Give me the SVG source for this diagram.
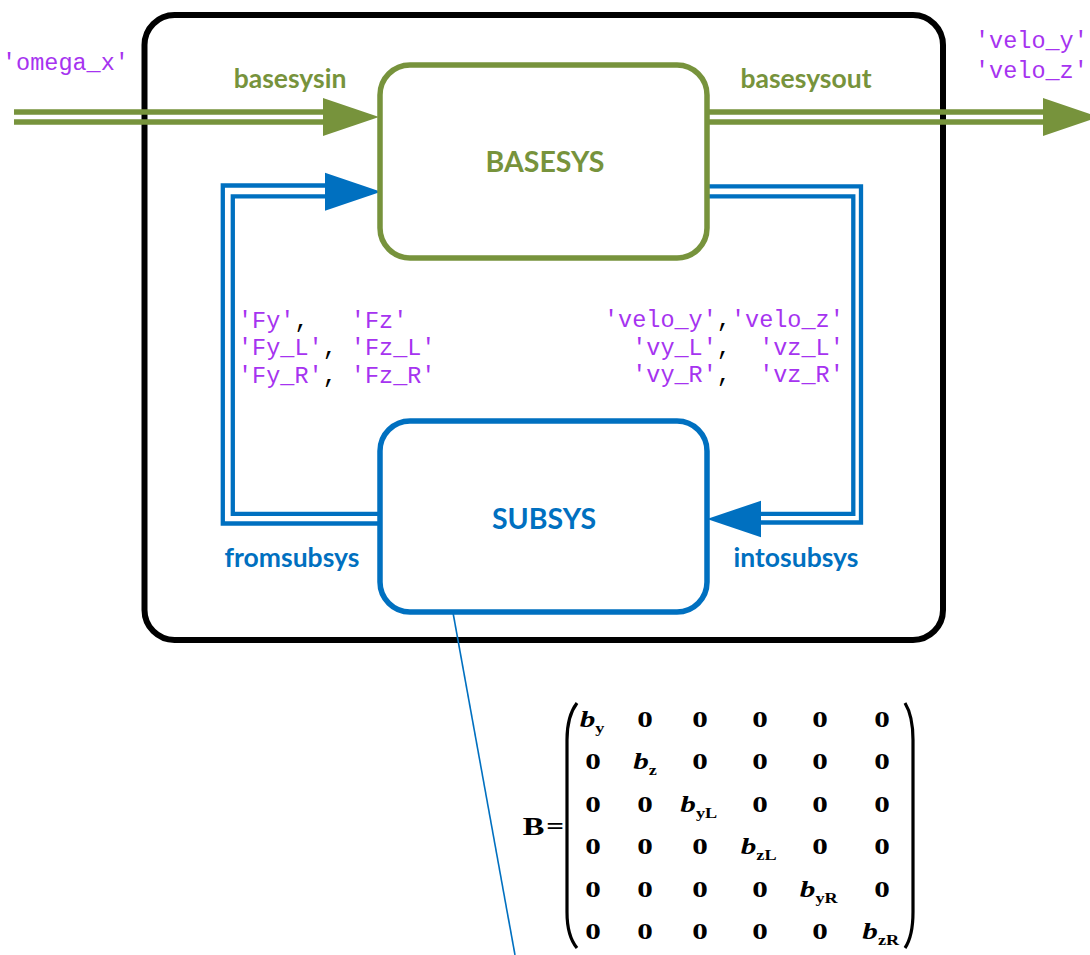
<svg xmlns="http://www.w3.org/2000/svg" width="1090" height="955" viewBox="0 0 1090 955">
<style>
.lbl{font-family:Lato,"Open Sans","Liberation Sans",sans-serif;font-weight:bold;text-anchor:middle}
.g{fill:#77933C}
.b{fill:#0070C0}
.code{font-family:"Liberation Mono","Courier New",monospace;font-size:23.5px;fill:#A633F0}
.blk{fill:#000}
.gl{stroke:#77933C;stroke-width:5.5;fill:none}
.bl{stroke:#0070C0;stroke-width:4.3;fill:none}
.mx{font-family:"Liberation Serif","Times New Roman",serif;font-weight:bold;font-size:24px;fill:#000;text-anchor:middle}
.mb{font-style:italic}
.sub{font-size:14px}
</style>
<rect width="1090" height="955" fill="#fff"/>
<g id="outer">
<rect x="144.5" y="15" width="798.5" height="625" rx="30" fill="none" stroke="#000" stroke-width="6"/>
</g>
<g id="connectors">
<path class="gl" d="M14,112 H328 M14,122 H328"/>
<polygon fill="#77933C" points="323,98 379,117 323,136"/>
<path class="gl" d="M707,112 H1046 M707,122 H1046"/>
<polygon fill="#77933C" points="1043,98 1099,117 1043,136"/>
<path class="bl" d="M380,523.5 H222.8 V185.5 H328"/>
<path class="bl" d="M380,513.8 H232.8 V196.3 H328"/>
<polygon fill="#0070C0" points="325,172.7 381,191.7 325,210.7"/>
<path class="bl" d="M707,186.3 H861 V522.5 H758"/>
<path class="bl" d="M707,196.3 H853.3 V513.8 H758"/>
<polygon fill="#0070C0" points="761,500.7 707,519 761,537.3"/>
<line x1="448" y1="585" x2="515" y2="955" stroke="#0070C0" stroke-width="1.6"/>
<circle cx="448" cy="585" r="5" fill="#0070C0"/>
</g>
<g id="basesys">
<rect x="380" y="65" width="327" height="193" rx="30" fill="#fff" stroke="#77933C" stroke-width="5.5"/>
<text class="lbl g" x="545" y="172" font-size="28.5">BASESYS</text>
</g>
<g id="subsys">
<rect x="380" y="421" width="327" height="191" rx="30" fill="#fff" stroke="#0070C0" stroke-width="5.5"/>
<text class="lbl b" x="544" y="529" font-size="28.5">SUBSYS</text>
</g>
<g id="labels">
<text class="lbl g" x="290" y="88" font-size="26.5">basesysin</text>
<text class="lbl g" x="806" y="88" font-size="26.5">basesysout</text>
<text class="lbl b" x="292" y="567" font-size="26.5">fromsubsys</text>
<text class="lbl b" x="796" y="567" font-size="26.5">intosubsys</text>
<text class="code" x="2" y="70">'omega_x'</text>
<text class="code" x="975" y="48">'velo_y'</text>
<text class="code" x="975" y="78">'velo_z'</text>
<text class="code" x="238" y="328" xml:space="preserve">'Fy'<tspan class="blk">,</tspan>   'Fz'</text>
<text class="code" x="238" y="355" xml:space="preserve">'Fy_L'<tspan class="blk">,</tspan> 'Fz_L'</text>
<text class="code" x="238" y="383" xml:space="preserve">'Fy_R'<tspan class="blk">,</tspan> 'Fz_R'</text>
<text class="code" x="604" y="327" xml:space="preserve">'velo_y'<tspan class="blk">,</tspan>'velo_z'</text>
<text class="code" x="604" y="355" xml:space="preserve">  'vy_L'<tspan class="blk">,</tspan>  'vz_L'</text>
<text class="code" x="604" y="382" xml:space="preserve">  'vy_R'<tspan class="blk">,</tspan>  'vz_R'</text>
</g>
<g id="matrix">
<path d="M577,703 Q567,716 567,740 V912 Q567,936 577,948" fill="none" stroke="#000" stroke-width="3.2"/>
<path d="M905,703 Q913,716 913,740 V912 Q913,936 905,948" fill="none" stroke="#000" stroke-width="3.2"/>
<g class="mx" transform="matrix(1.3,0,0,1,0,0)">
<text x="410.4" y="835" font-size="25">B</text>
<text x="427" y="834">=</text>
<text x="455.4" y="727"><tspan class="mb">b</tspan><tspan class="sub" dy="6">y</tspan></text>
<text x="496.2" y="727">0</text><text x="538.5" y="727">0</text><text x="584.6" y="727">0</text><text x="630.8" y="727">0</text><text x="678.5" y="727">0</text>
<text x="456.2" y="769">0</text>
<text x="496.2" y="769"><tspan class="mb">b</tspan><tspan class="sub" dy="6">z</tspan></text>
<text x="538.5" y="769">0</text><text x="584.6" y="769">0</text><text x="630.8" y="769">0</text><text x="678.5" y="769">0</text>
<text x="456.2" y="812">0</text><text x="496.2" y="812">0</text>
<text x="537.5" y="812"><tspan class="mb">b</tspan><tspan class="sub" dy="6">yL</tspan></text>
<text x="584.6" y="812">0</text><text x="630.8" y="812">0</text><text x="678.5" y="812">0</text>
<text x="456.2" y="854">0</text><text x="496.2" y="854">0</text><text x="538.5" y="854">0</text>
<text x="583.6" y="854"><tspan class="mb">b</tspan><tspan class="sub" dy="6">zL</tspan></text>
<text x="630.8" y="854">0</text><text x="678.5" y="854">0</text>
<text x="456.2" y="897">0</text><text x="496.2" y="897">0</text><text x="538.5" y="897">0</text><text x="584.6" y="897">0</text>
<text x="629.8" y="897"><tspan class="mb">b</tspan><tspan class="sub" dy="6">yR</tspan></text>
<text x="678.5" y="897">0</text>
<text x="456.2" y="939">0</text><text x="496.2" y="939">0</text><text x="538.5" y="939">0</text><text x="584.6" y="939">0</text><text x="630.8" y="939">0</text>
<text x="677.5" y="939"><tspan class="mb">b</tspan><tspan class="sub" dy="6">zR</tspan></text>
</g>
</g>
</svg>
